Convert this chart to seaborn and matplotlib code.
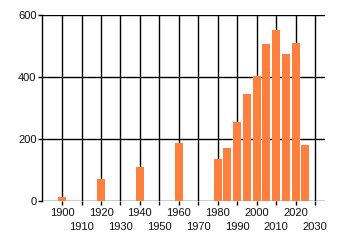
import matplotlib
matplotlib.use("Agg")
import matplotlib.pyplot as plt
import seaborn as sns
import pandas as pd

years = [1900, 1920, 1940, 1960, 1980, 1985, 1990, 1995, 2000, 2005, 2010, 2015, 2020, 2025]
values = [12, 70, 110, 187, 135, 172, 255, 345, 403, 507, 552, 475, 510, 181]
even_ticks = list(range(1900, 2031, 20))
odd_ticks = list(range(1910, 2031, 20))
y_ticks = [0, 200, 400, 600]

sns.set_style("white")
plt.rcParams['font.family'] = ['Liberation Sans', 'DejaVu Sans']

fig = plt.figure(figsize=(3.4, 2.45), dpi=100)
ax = fig.add_axes([42/340, 44/245, (325-42)/340, (201-15)/245])

df = pd.DataFrame({"year": years, "value": values})
sns.barplot(data=df, x="year", y="value", native_scale=True, width=0.82,
            color="#FF7F3F", saturation=1, linewidth=0, edgecolor="none",
            ax=ax, zorder=3)

ax.set_xlim(1889.7, 2035.1)
ax.set_ylim(0, 600)
ax.set_axisbelow(True)
ax.set_xticks(even_ticks)
ax.set_xticklabels([str(y) for y in even_ticks])
ax.set_xticks(odd_ticks, minor=True)
ax.set_xticklabels([str(y) for y in odd_ticks], minor=True)
ax.set_yticks(y_ticks)
ax.grid(True, which="both", axis="x", color="black", linewidth=1.0)
ax.grid(True, which="major", axis="y", color="black", linewidth=1.0)
ax.tick_params(axis="both", which="both", length=3, width=1.0, color="black",
               labelsize=8, labelcolor="#111111")
ax.tick_params(axis="x", which="major", pad=2, bottom=True)
ax.tick_params(axis="x", which="minor", pad=12, bottom=True)
ax.tick_params(axis="y", left=True, pad=1)
for s in ["top", "right", "bottom"]:
    ax.spines[s].set_visible(False)
ax.spines["left"].set_color("black")
ax.spines["left"].set_linewidth(1.0)
ax.set_xlabel("")
ax.set_ylabel("")

fig.savefig("out.png", dpi=100)
